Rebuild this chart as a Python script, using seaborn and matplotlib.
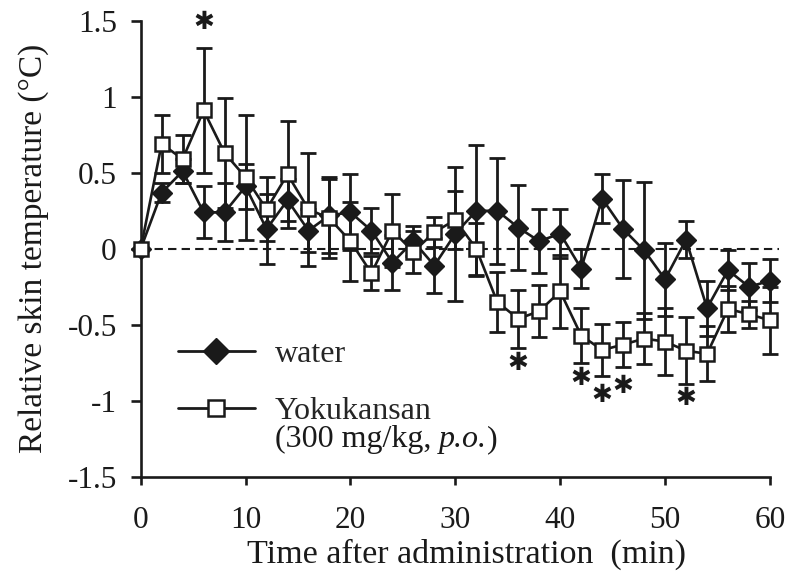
import matplotlib
matplotlib.use("Agg")
import matplotlib.pyplot as plt
from matplotlib.lines import Line2D
import seaborn as sns
import numpy as np

# ---------------- data ----------------
time = [0, 2, 4, 6, 8, 10, 12, 14, 16, 18, 20, 22, 24, 26, 28, 30,
        32, 34, 36, 38, 40, 42, 44, 46, 48, 50, 52, 54, 56, 58, 60]
water_mean = [0, 0.37, 0.51, 0.24, 0.24, 0.41, 0.13, 0.32, 0.12, 0.22, 0.24,
              0.12, -0.09, 0.05, -0.11, 0.10, 0.25, 0.25, 0.14, 0.05, 0.10,
              -0.13, 0.33, 0.13, -0.01, -0.20, 0.06, -0.39, -0.14, -0.25, -0.21]
water_err = [0, 0.06, 0.08, 0.17, 0.19, 0.15, 0.23, 0.14, 0.14, 0.25, 0.25,
             0.15, 0.18, 0.10, 0.18, 0.44, 0.43, 0.35, 0.28, 0.21, 0.16,
             0.13, 0.16, 0.32, 0.45, 0.24, 0.12, 0.18, 0.13, 0.155, 0.14]
yoku_mean = [0, 0.69, 0.59, 0.91, 0.63, 0.47, 0.26, 0.49, 0.26, 0.20, 0.05,
             -0.16, 0.12, -0.02, 0.11, 0.19, 0.00, -0.35, -0.46, -0.41, -0.28,
             -0.57, -0.665, -0.63, -0.59, -0.61, -0.67, -0.69, -0.395, -0.43, -0.47]
yoku_err = [0, 0.19, 0.16, 0.41, 0.36, 0.41, 0.21, 0.35, 0.37, 0.26, 0.26,
            0.11, 0.24, 0.14, 0.10, 0.19, 0.17, 0.20, 0.19, 0.17, 0.24,
            0.18, 0.17, 0.15, 0.17, 0.22, 0.22, 0.18, 0.15, 0.09, 0.22]
star_time = [6, 36, 42, 44, 46, 52]
star_value = [1.49, -0.75, -0.85, -0.96, -0.90, -0.98]

xticks = [0, 10, 20, 30, 40, 50, 60]
yticks = [-1.5, -1, -0.5, 0, 0.5, 1, 1.5]
yticklabels = ["-1.5", "-1", "-0.5", "0", "0.5", "1", "1.5"]
label_water = "water"
label_yoku = "Yokukansan"
dose_parts = ["(300 mg/kg, ", "p.o.", ")"]
xlabel = "Time after administration  (min)"
ylabel = "Relative skin temperature (\u00b0C)"

INK = "#1a1a1a"

# ---------------- style ----------------
sns.set_style("ticks")
plt.rcParams["font.family"] = ["Liberation Serif", "DejaVu Sans"]
plt.rcParams["axes.unicode_minus"] = False

fig = plt.figure(figsize=(7.86, 5.79), dpi=100)
ax = fig.add_axes([0.1790, 0.1762, 0.8006, 0.7881])

# zero reference line
ax.axhline(0, xmax=1.015, color=INK, lw=1.5, ls=(0, (4, 2.5)), zorder=1,
           clip_on=False)

# error bars
for m, e in [(water_mean, water_err), (yoku_mean, yoku_err)]:
    ax.errorbar(time, m, yerr=e, fmt="none", ecolor=INK,
                elinewidth=2.0, capsize=6, capthick=2.0, zorder=2,
                clip_on=False)

# lines with markers
sns.lineplot(x=time, y=water_mean, ax=ax, color=INK, lw=1.9,
             marker="D", markersize=10, markerfacecolor=INK,
             markeredgecolor=INK, markeredgewidth=1.0,
             zorder=3, clip_on=False)
sns.lineplot(x=time, y=yoku_mean, ax=ax, color=INK, lw=1.9,
             marker="s", markersize=10, markerfacecolor="white",
             markeredgecolor=INK, markeredgewidth=1.8,
             zorder=4, clip_on=False)

# significance stars
for t, v in zip(star_time, star_value):
    ax.text(t, v, "\u2731", family="DejaVu Sans", fontsize=18,
            ha="center", va="center", color=INK, zorder=5)

# axes
ax.set_xlim(0, 60)
ax.set_ylim(-1.5, 1.5)
ax.set_xticks(xticks)
ax.set_yticks(yticks)
ax.set_yticklabels(yticklabels)
for s in ["top", "right"]:
    ax.spines[s].set_visible(False)
for s in ["left", "bottom"]:
    ax.spines[s].set_linewidth(1.9)
    ax.spines[s].set_color(INK)
ax.tick_params(axis="y", direction="out", length=7.2, width=1.9, pad=10,
               labelsize=22.5, colors=INK)
ax.tick_params(axis="x", direction="out", length=5.8, width=1.9, pad=15,
               labelsize=22.5, colors=INK)

ax.set_xlabel(xlabel, fontsize=24.5, color=INK)
ax.set_ylabel(ylabel, fontsize=24, color=INK)
ax.xaxis.set_label_coords(0.5185, -0.136)
ax.yaxis.set_label_coords(-0.146, 0.5)

# legend
handles = [
    Line2D([], [], color=INK, lw=2.0, marker="D", markersize=13.5,
           markerfacecolor=INK, markeredgecolor=INK),
    Line2D([], [], color=INK, lw=2.0, marker="s", markersize=12,
           markerfacecolor="white", markeredgecolor=INK, markeredgewidth=1.8),
]
ax.legend(handles, [label_water, label_yoku], loc="center left",
          bbox_to_anchor=(3.56, -0.882), bbox_transform=ax.transData,
          frameon=False, fontsize=23, borderpad=0, borderaxespad=0,
          handlelength=2.4, handletextpad=0.62, labelspacing=0.85)

t1 = ax.text(12.8, -1.255, dose_parts[0], fontsize=23, ha="left",
             va="center", color=INK)
t2 = ax.annotate(dose_parts[1], xy=(1, 0), xycoords=t1, fontsize=23,
                 style="italic", ha="left", va="bottom", color=INK)
ax.annotate(dose_parts[2], xy=(1, 0), xycoords=t2, fontsize=23,
            ha="left", va="bottom", color=INK)

fig.savefig("out.png", dpi=100)
